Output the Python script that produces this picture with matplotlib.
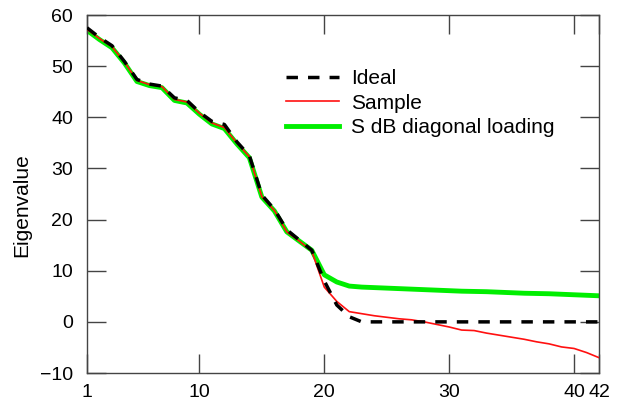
"""Eigenvalue spectrum: ideal vs sample vs diagonal loading
"""

import matplotlib
matplotlib.use('Agg')
import matplotlib.pyplot as plt
import numpy as np

plt.rcParams['font.family'] = ['Liberation Sans', 'DejaVu Sans']

index = np.arange(1, 43)

ideal = [57.5, 55.6, 54.0, 50.9, 47.4, 46.5, 46.1, 43.8, 43.3, 41.0,
         39.2, 38.6, 35.2, 32.5, 24.8, 22.0, 18.0, 16.0, 14.0, 8.0,
         3.3, 1.0, 0.0, 0.0, 0.0, 0.0, 0.0, 0.0, 0.0, 0.0,
         0.0, 0.0, 0.0, 0.0, 0.0, 0.0, 0.0, 0.0, 0.0, 0.0,
         0.0, 0.0]

sample = [57.2, 55.4, 53.8, 50.8, 47.2, 46.4, 46.0, 43.5, 43.0, 40.8,
          38.9, 38.0, 35.0, 32.3, 24.5, 21.8, 17.6, 15.8, 13.8, 6.8,
          4.0, 2.0, 1.6, 1.2, 0.9, 0.6, 0.4, 0.0, -0.5, -1.0,
          -1.6, -1.7, -2.2, -2.6, -3.0, -3.4, -3.9, -4.3, -4.9, -5.2,
          -6.0, -7.0]

loaded = [57.0, 55.2, 53.6, 50.6, 47.0, 46.2, 45.8, 43.3, 42.8, 40.6,
          38.7, 37.8, 34.8, 32.1, 24.4, 21.7, 17.6, 15.8, 14.0, 9.2,
          7.8, 7.0, 6.8, 6.7, 6.6, 6.5, 6.4, 6.3, 6.2, 6.1,
          6.0, 5.95, 5.9, 5.8, 5.7, 5.6, 5.55, 5.5, 5.4, 5.3,
          5.2, 5.1]

xticks = [1, 10, 20, 30, 40, 42]
yticks = [-10, 0, 10, 20, 30, 40, 50, 60]

fig = plt.figure(figsize=(6.18, 4.07), dpi=100)
ax = fig.add_axes([0.1408, 0.0835, 0.8285, 0.8796])

ax.plot(index, loaded, color='#00ee00', lw=3.5, label='S dB diagonal loading',
        zorder=2)
ax.plot(index, sample, color='#ff1010', lw=1.2, label='Sample', zorder=3)
ax.plot(index, ideal, color='black', lw=2.5, ls=(0, (3.3, 2.9)), label='Ideal',
        zorder=4)

ax.set_xlim(1, 42)
ax.set_ylim(-10, 60)
ax.set_xticks(xticks)
ax.set_yticks(yticks)
ax.tick_params(direction='in', length=14, width=1, color='#444444',
               top=True, right=True, labelsize=14)
ax.tick_params(axis='y', pad=10)
ax.tick_params(axis='x', pad=8)
for s in ax.spines.values():
    s.set_color('#444444')
    s.set_linewidth(1)

ax.set_ylabel('Eigenvalue', fontsize=15)
ax.yaxis.set_label_coords(-0.109, 0.47)

h, l = ax.get_legend_handles_labels()
ax.legend(h[::-1], l[::-1], loc='upper left', bbox_to_anchor=(0.3895, 0.848),
          frameon=False, fontsize=15, handlelength=2.5, handletextpad=0.6,
          labelspacing=0.25, borderaxespad=0, borderpad=0)

fig.savefig('out.png', dpi=100)
